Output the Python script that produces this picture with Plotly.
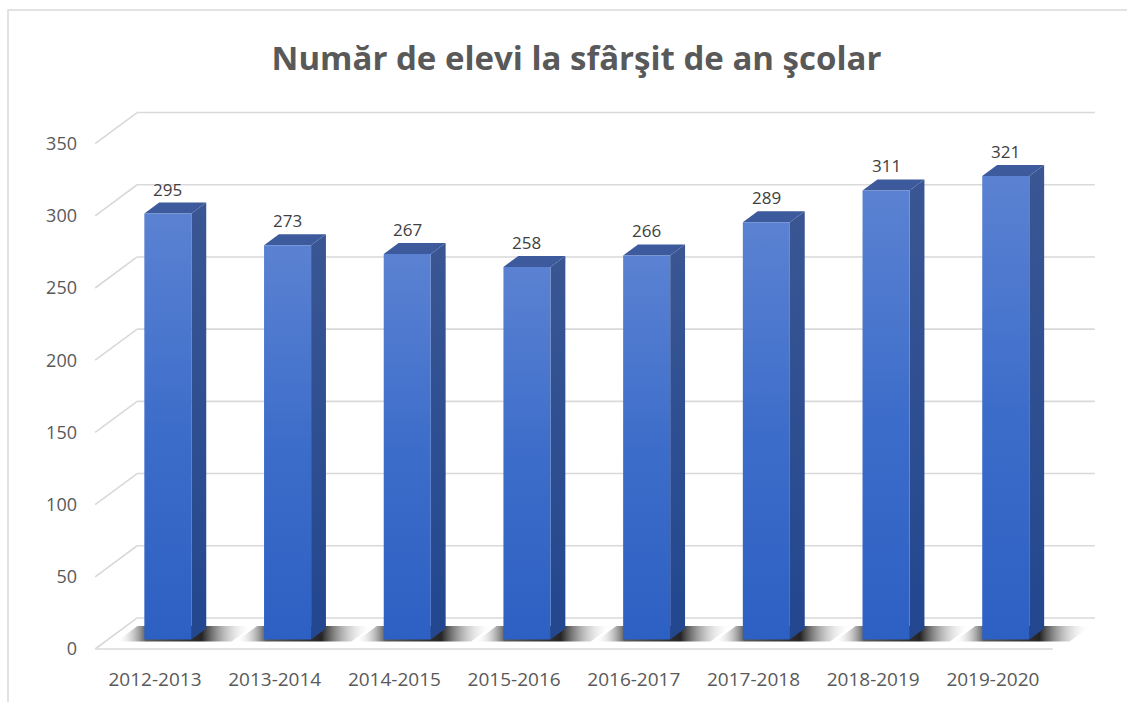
import plotly.graph_objects as go

# School years and number of pupils at the end of each year
years = ["2012-2013", "2013-2014", "2014-2015", "2015-2016",
         "2016-2017", "2017-2018", "2018-2019", "2019-2020"]
pupils = [295, 273, 267, 258, 266, 289, 311, 321]
y_ticks = [0, 50, 100, 150, 200, 250, 300, 350]

TITLE = "Număr de elevi la sfârşit de an şcolar"
FONT = "Open Sans"
GREY = "#595959"

# Oblique 3D projection: the axes describe the front plane of the floor;
# a point at depth fraction d is shifted by (d*DX, d*DV).
DX, DV = 0.351, 21.5          # full depth of the chart box
D0, D1 = 0.306, 0.66          # front / back of the bar boxes
W = 0.393                     # bar width (category units)
X_LO, X_HI = -0.5, 7.5        # floor extent

fig = go.Figure()


def poly(xs, ys, color=None, grad=None, gtype="vertical"):
    xs = list(xs) + [xs[0]]
    ys = list(ys) + [ys[0]]
    kw = dict(x=xs, y=ys, mode="lines", fill="toself", line=dict(width=0),
              hoverinfo="skip", showlegend=False)
    if grad is not None:
        kw["fillgradient"] = dict(type=gtype, colorscale=grad)
    else:
        kw["fillcolor"] = color
    fig.add_trace(go.Scatter(**kw))


def seg(x0, y0, x1, y1, color="#D9D9D9", width=1.6):
    fig.add_trace(go.Scatter(x=[x0, x1], y=[y0, y1], mode="lines",
                             line=dict(color=color, width=width),
                             hoverinfo="skip", showlegend=False))


# Back wall gridlines with their oblique stubs on the left
for t in y_ticks:
    seg(X_LO + DX, t + DV, X_HI + DX, t + DV)
    seg(X_LO, t, X_LO + DX, t + DV)
# Front edge of the floor
seg(X_LO, 0, X_HI, 0)

# Floor shadows under each bar: fade out to the left and to the right
LEFT_EXT, RIGHT_EXT = 0.21, 0.36
span = LEFT_EXT + W + RIGHT_EXT
a = LEFT_EXT / span
b = (LEFT_EXT + W) / span
shadow_scale = [[0.0, "rgba(255,255,255,0)"], [a, "rgba(60,60,60,0.85)"],
                [b, "rgba(25,25,25,0.95)"], [1.0, "rgba(255,255,255,0)"]]
s0, s1 = 0.24, 0.74
for i, h in enumerate(pupils):
    xl, xr = i - W / 2 - LEFT_EXT, i + W / 2 + RIGHT_EXT
    poly([xl + s0 * DX, xr + s0 * DX, xr + s1 * DX, xl + s1 * DX],
         [s0 * DV, s0 * DV, s1 * DV, s1 * DV], grad=shadow_scale, gtype="horizontal")

front_scale = [[0, "#2D60C3"], [0.5, "#3D6DCA"], [1, "#5B82D2"]]
side_scale = [[0, "#22478F"], [1, "#3A5693"]]
for i, h in enumerate(pupils):
    xl, xr = i - W / 2, i + W / 2
    # right side face
    poly([xr + D0 * DX, xr + D1 * DX, xr + D1 * DX, xr + D0 * DX],
         [D0 * DV, D1 * DV, h + D1 * DV, h + D0 * DV], grad=side_scale)
    # top face
    poly([xl + D0 * DX, xr + D0 * DX, xr + D1 * DX, xl + D1 * DX],
         [h + D0 * DV, h + D0 * DV, h + D1 * DV, h + D1 * DV], color="#3D5A9C")
    # front face
    poly([xl + D0 * DX, xr + D0 * DX, xr + D0 * DX, xl + D0 * DX],
         [D0 * DV, D0 * DV, h + D0 * DV, h + D0 * DV], grad=front_scale)
    # value label
    fig.add_annotation(x=i + D0 * DX, y=h + D1 * DV, text=str(h), showarrow=False,
                       xanchor="center", yanchor="bottom", yshift=0,
                       font=dict(family=FONT, size=17, color="#404040"))

L, R, T, B = 85, 10, 85, 45
fig.update_layout(
    width=1127, height=702,
    margin=dict(l=L, r=R, t=T, b=B),
    paper_bgcolor="white", plot_bgcolor="white",
    title=dict(text=TITLE, x=576.5 / 1127, xref="container", xanchor="center",
               y=1 - 58 / 702, yref="container", yanchor="middle",
               font=dict(family=FONT, size=33, color=GREY, weight="bold")),
    xaxis=dict(range=[-0.5848, 8.0368], tickvals=list(range(len(years))),
               ticktext=years, showgrid=False, zeroline=False, showline=False,
               ticks="", ticklabelstandoff=9,
               tickfont=dict(family=FONT, size=19, color=GREY)),
    yaxis=dict(range=[-5.54, 390.58], tickvals=y_ticks, showgrid=False,
               zeroline=False, showline=False, ticks="", ticklabelstandoff=7,
               tickfont=dict(family=FONT, size=18, color=GREY)),
)

# Thin outer frame of the chart area
pw, ph = 1127 - L - R, 702 - T - B
fig.add_shape(type="rect", xref="paper", yref="paper",
              x0=(8 - L) / pw, x1=(1140 - L) / pw,
              y0=(702 - B - 712) / ph, y1=(702 - B - 10) / ph,
              line=dict(color="#D9D9D9", width=1.5), layer="below")

fig.write_html("out.html")
